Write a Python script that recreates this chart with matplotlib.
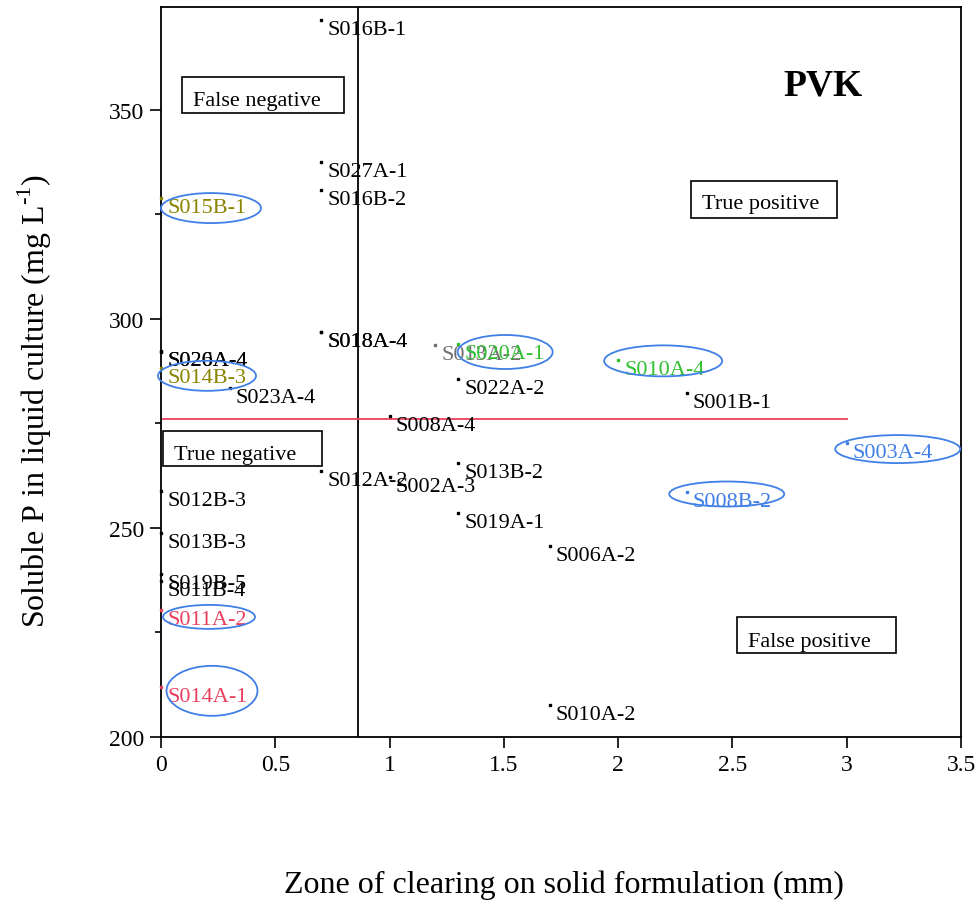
import matplotlib
matplotlib.use("Agg")
import matplotlib.pyplot as plt
from matplotlib.patches import Ellipse, Rectangle
from matplotlib.transforms import IdentityTransform, ScaledTranslation
from matplotlib.ticker import MultipleLocator

plt.rcParams['font.family'] = ['Liberation Serif', 'DejaVu Serif']
plt.rcParams['mathtext.fontset'] = 'custom'
plt.rcParams['mathtext.rm'] = 'Liberation Serif'

# Isolates: zone of clearing (mm) vs soluble P (mg/L)
isolates = ["S016B-1", "S027A-1", "S016B-2", "S018A-4", "S018A-4",
            "S020A-4", "S026A-4", "S014B-3", "S015B-1", "S023A-4",
            "S013A-2", "S020A-1", "S022A-2", "S008A-4", "S012A-2",
            "S002A-3", "S013B-2", "S019A-1", "S006A-2", "S010A-2",
            "S001B-1", "S010A-4", "S003A-4", "S008B-2", "S012B-3",
            "S013B-3", "S019B-5", "S011B-4", "S011A-2", "S014A-1"]
zone_mm = [0.7, 0.7, 0.7, 0.7, 0.7,
           0.0, 0.0, 0.0, 0.0, 0.3,
           1.2, 1.3, 1.3, 1.0, 0.7,
           1.0, 1.3, 1.3, 1.7, 1.7,
           2.3, 2.0, 3.0, 2.3, 0.0,
           0.0, 0.0, 0.0, 0.0, 0.0]
soluble_p = [371.5, 337.6, 330.9, 296.9, 296.9,
             292.4, 292.2, 288.3, 328.9, 283.5,
             293.8, 294.0, 285.6, 276.8, 263.6,
             262.2, 265.6, 253.6, 245.7, 207.7,
             282.3, 290.2, 270.3, 258.6, 258.9,
             248.8, 239.0, 237.3, 230.4, 212.0]
groups = ["k", "k", "k", "k", "k",
          "k", "k", "olive", "olive", "k",
          "gray", "green", "k", "k", "k",
          "k", "k", "k", "k", "k",
          "k", "green", "blue", "blue", "k",
          "k", "k", "k", "red", "red"]

cutoff_zone = 0.862
cutoff_p = 276.0

palette = {"k": "black", "olive": "#8a8400", "gray": "#707070",
           "green": "#2fbf2f", "blue": "#3f7fe6", "red": "#e8405e"}

# highlighted isolates: ellipse offset and size in pixels relative to the point
highlight = {"S015B-1": (50, -10, 100, 30),
             "S014B-3": (46, -8, 98, 30),
             "S020A-1": (47, -8, 95, 34),
             "S010A-4": (45, -1, 118, 31),
             "S003A-4": (51, -6, 125, 28),
             "S008B-2": (40, -2, 115, 25),
             "S011A-2": (48, -7, 92, 24),
             "S014A-1": (51, -4, 91, 50)}

# quadrant captions: text, text anchor (axes fraction), frame (x0, y0, x1, y1)
quadrants = [("False negative", (0.040, 0.8658), (0.02625, 0.8548, 0.22875, 0.9041)),
             ("True positive", (0.676, 0.7247), (0.6625, 0.7110, 0.845, 0.7616)),
             ("True negative", (0.01625, 0.3808), (0.0025, 0.3712, 0.20125, 0.4192)),
             ("False positive", (0.73375, 0.1247), (0.72, 0.1151, 0.91875, 0.1644))]

fig = plt.figure(figsize=(9.79, 9.03), dpi=100)
ax = fig.add_axes([161 / 979, 1 - 738 / 903, 800 / 979, 730 / 903])

ax.set_xlim(0, 3.5)
ax.set_ylim(200, 374.6)

ax.axvline(cutoff_zone, color="black", lw=1.3, zorder=1)
ax.plot([0, 3.0], [cutoff_p, cutoff_p], color="#e8405e", lw=1.3, zorder=1)

for name, x, y, g in zip(isolates, zone_mm, soluble_p, groups):
    c = palette[g]
    ax.plot(x, y, marker="s", ms=2.0, color=c, ls="none", clip_on=False, zorder=3)
    ax.annotate(name, (x, y), xytext=(4.5, -10), textcoords="offset points",
                ha="left", va="baseline", fontsize=16, color=c, zorder=4)

for name, (dx, dy, w, h) in highlight.items():
    i = isolates.index(name)
    tr = IdentityTransform() + ScaledTranslation(zone_mm[i], soluble_p[i], ax.transData)
    ax.add_patch(Ellipse((dx, dy), w, h, transform=tr, fill=False,
                         edgecolor="#3f7fe6", lw=1.3, zorder=5, clip_on=False))

for label, (tx, ty), (x0, y0, x1, y1) in quadrants:
    ax.add_patch(Rectangle((x0, y0), x1 - x0, y1 - y0, transform=ax.transAxes,
                           facecolor="white", edgecolor="black", lw=1.2, zorder=6))
    ax.text(tx, ty, label, transform=ax.transAxes, fontsize=16,
            va="baseline", ha="left", zorder=7)

ax.text(0.8275, 0.893, "PVK", transform=ax.transAxes, fontsize=27,
        fontweight="bold", va="center", ha="center")

ax.yaxis.set_major_locator(MultipleLocator(50))
ax.yaxis.set_minor_locator(MultipleLocator(25))
ax.set_xticks([0, 0.5, 1, 1.5, 2, 2.5, 3, 3.5])
ax.set_xticklabels(["0", "0.5", "1", "1.5", "2", "2.5", "3", "3.5"])
ax.tick_params(axis="both", which="major", direction="out", length=8, width=1.2,
               labelsize=17, pad=4)
ax.tick_params(axis="y", which="minor", direction="out", length=4.5, width=1.2)
for s in ax.spines.values():
    s.set_linewidth(1.3)

fig.text(564 / 979, 1 - 885 / 903, "Zone of clearing on solid formulation (mm)",
         ha="center", va="center", fontsize=23)
fig.text(35 / 979, 1 - 401 / 903, "Soluble P in liquid culture (mg L$^{\\text{-1}}$)",
         ha="center", va="center", rotation=90, fontsize=23)

fig.savefig("out.png", dpi=100)
